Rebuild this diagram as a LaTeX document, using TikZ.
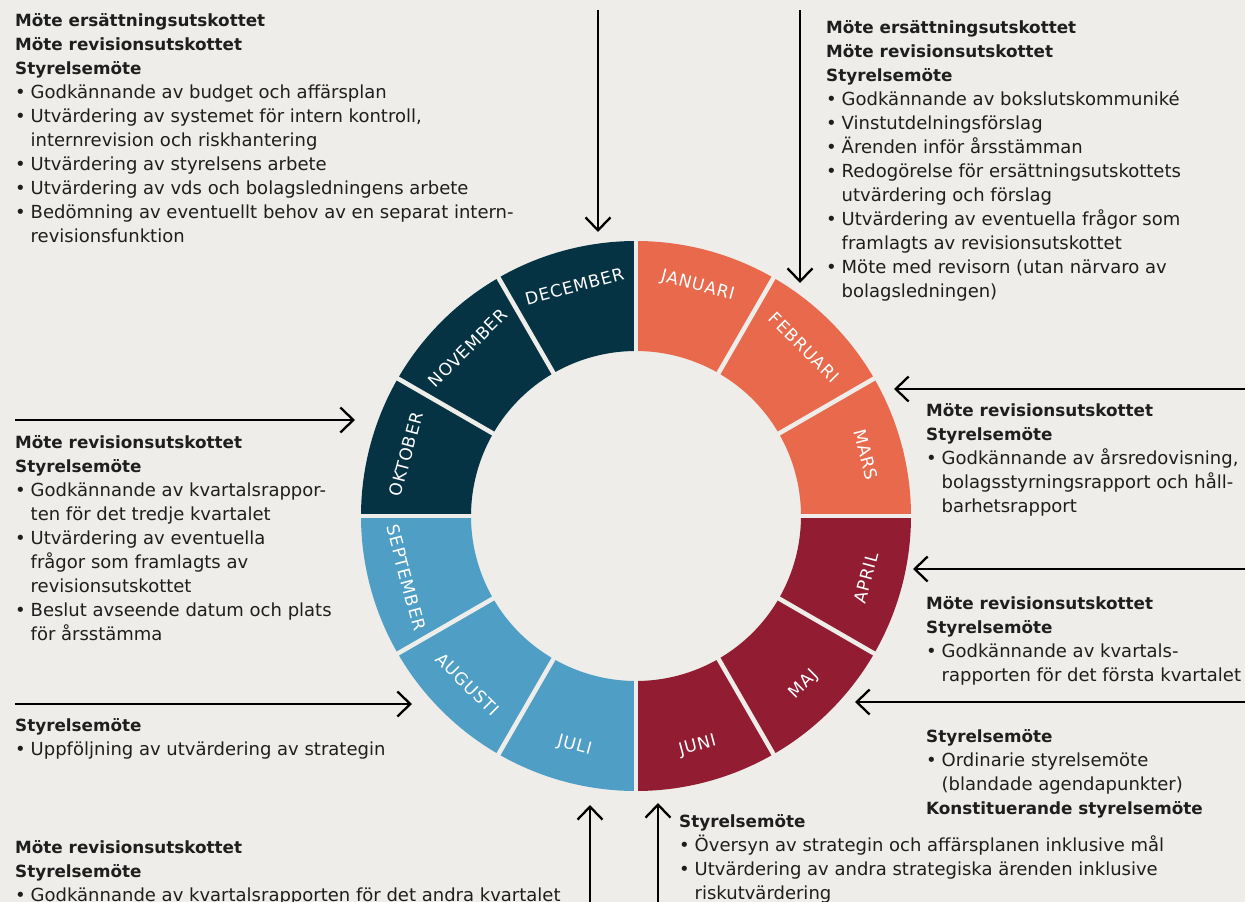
\documentclass[tikz,border=0pt]{standalone}
\usepackage{fontspec}
\setmainfont{DejaVu Sans}
\newfontfamily\monthfont{DejaVu Sans}[LetterSpace=5]
\usetikzlibrary{arrows.meta}

\definecolor{bgpaper}{HTML}{EEEDE9}
\definecolor{janmar}{HTML}{E8694B}
\definecolor{aprjun}{HTML}{921D33}
\definecolor{julsep}{HTML}{4F9EC6}
\definecolor{octdec}{HTML}{063344}
\definecolor{inktext}{HTML}{1E1E1E}

\newcommand{\hd}[1]{{\fontsize{16.8bp}{24bp}\selectfont\bfseries #1}}
\newcommand{\bul}[1]{\makebox[15.5bp][l]{\textbullet}#1}
\newcommand{\cnt}[1]{\makebox[15.5bp]{}#1}

\begin{document}
\begin{tikzpicture}[x=1bp,y=-1bp]
   \tikzstyle{block}=[anchor=north west, align=left, inner sep=0pt, text=inktext, font=\fontsize{18bp}{24bp}\selectfont]
   \tikzstyle{month}=[inner sep=0pt, text=white, font=\monthfont\fontsize{17bp}{19bp}\selectfont]
   \tikzstyle{gap}=[draw=bgpaper, line width=4.5bp]
   \tikzstyle{conn}=[-{Straight Barb[length=13bp,width=25bp]}, line width=2.3bp, draw=black]
   \fill[bgpaper] (0,0) rectangle (1245,902);
   \useasboundingbox (0,0) rectangle (1245,902);
   \begin{scope}[shift={(636,516)}, y=1bp]
      \foreach \i/\mon/\col/\turn in {0/JANUARI/janmar/-90, 1/FEBRUARI/janmar/-90, 2/MARS/janmar/-90,
                                      3/APRIL/aprjun/90, 4/MAJ/aprjun/90, 5/JUNI/aprjun/90,
                                      6/JULI/julsep/90, 7/AUGUSTI/julsep/90, 8/SEPTEMBER/julsep/90,
                                      9/OKTOBER/octdec/-90, 10/NOVEMBER/octdec/-90, 11/DECEMBER/octdec/-90} {
         \pgfmathsetmacro{\aa}{90-30*\i}
         \pgfmathsetmacro{\ab}{60-30*\i}
         \pgfmathsetmacro{\am}{75-30*\i}
         \fill[\col] (\aa:165bp) -- (\aa:275bp) arc[start angle=\aa, end angle=\ab, radius=275bp]
            -- (\ab:165bp) arc[start angle=\ab, end angle=\aa, radius=165bp] -- cycle;
         \node[month, rotate=\am+\turn] (m\i) at (\am:238bp) {\mon};
      }
      \foreach \i in {0,...,11} {
         \pgfmathsetmacro{\aa}{90-30*\i}
         \draw[gap] (\aa:160bp) -- (\aa:280bp);
      }
   \end{scope}

   \node[block] (dec) at (15,13) {\hd{Möte ersättningsutskottet}\\ \hd{Möte revisionsutskottet}\\ \hd{Styrelsemöte}\\
      \bul{Godkännande av budget och affärsplan}\\
      \bul{Utvärdering av systemet för intern kontroll,}\\
      \cnt{internrevision och riskhantering}\\
      \bul{Utvärdering av styrelsens arbete}\\
      \bul{Utvärdering av vds och bolagsledningens arbete}\\
      \bul{Bedömning av eventuellt behov av en separat intern-}\\
      \cnt{revisionsfunktion}};
   \node[block] (feb) at (826,20) {\hd{Möte ersättningsutskottet}\\ \hd{Möte revisionsutskottet}\\ \hd{Styrelsemöte}\\
      \bul{Godkännande av bokslutskommuniké}\\
      \bul{Vinstutdelningsförslag}\\
      \bul{Ärenden inför årsstämman}\\
      \bul{Redogörelse för ersättningsutskottets}\\
      \cnt{utvärdering och förslag}\\
      \bul{Utvärdering av eventuella frågor som}\\
      \cnt{framlagts av revisionsutskottet}\\
      \bul{Möte med revisorn (utan närvaro av}\\
      \cnt{bolagsledningen)}};
   \node[block] (mar) at (926,403) {\hd{Möte revisionsutskottet}\\ \hd{Styrelsemöte}\\
      \bul{Godkännande av årsredovisning,}\\
      \cnt{bolagsstyrningsrapport och håll-}\\
      \cnt{barhetsrapport}};
   \node[block] (apr) at (926,596) {\hd{Möte revisionsutskottet}\\ \hd{Styrelsemöte}\\
      \bul{Godkännande av kvartals-}\\
      \cnt{rapporten för det första kvartalet}};
   \node[block] (maj) at (926,729) {\hd{Styrelsemöte}\\
      \bul{Ordinarie styrelsemöte}\\
      \cnt{(blandade agendapunkter)}\\
      \hd{Konstituerande styrelsemöte}};
   \node[block] (jun) at (679,814) {\hd{Styrelsemöte}\\
      \bul{Översyn av strategin och affärsplanen inklusive mål}\\
      \bul{Utvärdering av andra strategiska ärenden inklusive}\\
      \cnt{riskutvärdering}};
   \node[block] (jul) at (15,840) {\hd{Möte revisionsutskottet}\\ \hd{Styrelsemöte}\\
      \bul{Godkännande av kvartalsrapporten för det andra kvartalet}};
   \node[block] (aug) at (15,718) {\hd{Styrelsemöte}\\
      \bul{Uppföljning av utvärdering av strategin}};
   \node[block] (okt) at (15,435) {\hd{Möte revisionsutskottet}\\ \hd{Styrelsemöte}\\
      \bul{Godkännande av kvartalsrappor-}\\
      \cnt{ten för det tredje kvartalet}\\
      \bul{Utvärdering av eventuella}\\
      \cnt{frågor som framlagts av}\\
      \cnt{revisionsutskottet}\\
      \bul{Beslut avseende datum och plats}\\
      \cnt{för årsstämma}};

   \coordinate (decFrom) at (598,10);    \coordinate (decTo) at (598,232);
   \coordinate (febFrom) at (800,10);    \coordinate (febTo) at (800,283);
   \coordinate (marFrom) at (1245,389);  \coordinate (marTo) at (894,389);
   \coordinate (aprFrom) at (1245,569);  \coordinate (aprTo) at (913,569);
   \coordinate (majFrom) at (1245,702);  \coordinate (majTo) at (855,702);
   \coordinate (junFrom) at (658,902);   \coordinate (junTo) at (658,803);
   \coordinate (julFrom) at (590,902);   \coordinate (julTo) at (590,805);
   \coordinate (augFrom) at (15,704);    \coordinate (augTo) at (412,704);
   \coordinate (oktFrom) at (15,420);    \coordinate (oktTo) at (355,420);
   \foreach \m in {dec,feb,mar,apr,maj,jun,jul,aug,okt} {
       \draw[conn] (\m From) -- (\m To);
   }
\end{tikzpicture}
\end{document}
